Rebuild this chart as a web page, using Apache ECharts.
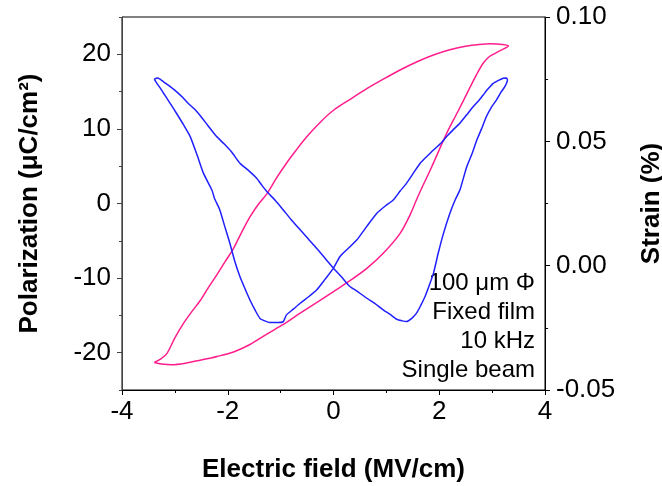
<!DOCTYPE html>
<html><head><meta charset="utf-8">
<script src="https://cdn.jsdelivr.net/npm/echarts@6/dist/echarts.min.js"></script>
<style>html,body{margin:0;padding:0;background:#fff}#c{width:662px;height:486px}</style>
</head><body><div id="c"></div>
<script>
// Polarization loop (left axis), traced in order
const fieldP = [-3.39,-3.25,-3.06,-2.8,-2.52,-2.2,-1.89,-1.58,-1.26,-0.95,-0.63,-0.32,0,0.32,0.63,0.95,1.26,1.45,1.6,1.85,2.14,2.35,2.52,2.7,2.83,2.95,3.05,3.18,3.31,
  3.2,2.96,2.75,2.52,2.2,1.89,1.58,1.26,0.95,0.63,0.32,0,-0.25,-0.51,-0.7,-0.89,-1.08,-1.26,-1.42,-1.58,-1.74,-1.89,-2.05,-2.21,-2.37,-2.52,-2.68,-2.84,-3.0,-3.15,-3.28,-3.39];
const polarization = [-21.3,-21.5,-21.6,-21.4,-21.0,-20.5,-19.9,-18.9,-17.5,-16.2,-14.7,-13.3,-11.8,-10.3,-8.7,-6.6,-4.0,-1.5,1.0,4.8,9.4,12.3,14.7,17.2,18.8,19.7,20.1,20.6,21.1,
  21.3,21.4,21.3,21.1,20.6,19.9,19.0,17.9,16.7,15.4,14.0,12.5,10.9,8.9,7.2,5.4,3.4,1.3,-0.1,-1.8,-3.9,-6.0,-7.8,-9.6,-11.3,-13.0,-14.5,-16.1,-18.0,-20.1,-20.9,-21.3];
// Strain butterfly (right axis), traced in order
const fieldS = [-3.39,-3.33,-3.28,-3.25,-3.1,-2.97,-2.85,-2.75,-2.63,-2.53,-2.38,-2.21,-2.07,-1.93,-1.77,-1.62,-1.45,-1.35,-1.26,-1.1,-0.95,-0.8,-0.63,-0.48,-0.32,-0.16,0,0.15,0.31,0.47,0.63,0.78,0.94,1.07,1.2,1.3,1.38,1.48,1.57,1.65,1.73,1.81,1.89,1.98,2.08,2.2,2.3,2.39,2.52,2.62,2.71,2.8,2.89,2.98,3.08,3.16,3.24,3.29,
  3.27,3.21,3.12,3.02,2.92,2.83,2.74,2.64,2.52,2.39,2.27,2.14,2.02,1.89,1.77,1.64,1.51,1.38,1.26,1.13,0.98,0.82,0.63,0.44,0.28,0.12,0,-0.16,-0.32,-0.47,-0.63,-0.76,-0.89,-0.95,-1.05,-1.2,-1.3,-1.39,-1.48,-1.58,-1.68,-1.77,-1.87,-1.96,-2.06,-2.15,-2.25,-2.3,-2.46,-2.58,-2.71,-2.84,-2.97,-3.08,-3.19,-3.27,-3.34,-3.39];
const strain = [0.0750,0.0755,0.0750,0.0745,0.0722,0.0700,0.0676,0.0653,0.0630,0.0606,0.0565,0.0519,0.0490,0.0458,0.0412,0.0385,0.0351,0.0322,0.0298,0.0262,0.0224,0.0185,0.0144,0.0108,0.0070,0.0030,-0.0010,-0.0045,-0.0084,-0.0106,-0.0131,-0.0152,-0.0178,-0.0196,-0.0216,-0.0222,-0.0225,-0.0212,-0.0191,-0.0160,-0.0125,-0.0080,-0.0031,0.0050,0.0130,0.0210,0.0264,0.0304,0.0398,0.0450,0.0505,0.0550,0.0599,0.0635,0.0666,0.0695,0.0720,0.0747,
  0.0755,0.0754,0.0745,0.0733,0.0710,0.0686,0.0662,0.0639,0.0607,0.0573,0.0548,0.0519,0.0490,0.0465,0.0440,0.0412,0.0372,0.0331,0.0300,0.0264,0.0240,0.0211,0.0158,0.0103,0.0070,0.0036,-0.0010,-0.0055,-0.0098,-0.0125,-0.0151,-0.0175,-0.0198,-0.0225,-0.0229,-0.0229,-0.0222,-0.0212,-0.0180,-0.0138,-0.0090,-0.0044,0.0020,0.0090,0.0160,0.0224,0.0270,0.0304,0.0372,0.0445,0.0519,0.0568,0.0613,0.0650,0.0686,0.0712,0.0733,0.0750];
const xRange = [-4, 4];
const leftRange = [-25, 25];
const leftLabelRange = [-20, 20];
const rightRange = [-0.05, 0.10];
const annotation = ['100 μm Φ', 'Fixed film', '10 kHz', 'Single beam'];

const FONT = "'Liberation Sans', Arial, sans-serif";
const chart = echarts.init(document.getElementById('c'), null, {renderer: 'canvas'});
const pPairs = fieldP.map((x, i) => [x, polarization[i]]);
const sPairs = fieldS.map((x, i) => [x, strain[i]]);
const unit = 373 / (leftRange[1] - leftRange[0]);
const gap2 = (leftLabelRange[0] - leftRange[0]) * unit;
const TICK_FS = 26, NAME_FS = 26;

chart.setOption({
  animation: false,
  backgroundColor: '#fff',
  grid: [
    {left: 122, right: 117, top: 17, bottom: 96, show: true, borderColor: '#000', borderWidth: 1,
     containLabel: false, outerBoundsMode: 'none'},
    {left: 122, right: 117, top: 17 + gap2, bottom: 96 + gap2, show: false,
     containLabel: false, outerBoundsMode: 'none'}
  ],
  xAxis: [
    {type: 'value', gridIndex: 0, min: xRange[0], max: xRange[1], interval: 2,
     name: 'Electric field (MV/cm)', nameLocation: 'middle', nameGap: 67,
     nameTextStyle: {fontFamily: FONT, fontSize: NAME_FS, fontWeight: 'bold', color: '#000'},
     axisLine: {onZero: false, lineStyle: {color: '#000', width: 1}},
     axisTick: {length: 5, lineStyle: {color: '#000'}},
     minorTick: {show: true, splitNumber: 2, length: 3, lineStyle: {color: '#000'}},
     axisLabel: {fontFamily: FONT, fontSize: TICK_FS, color: '#000', margin: 9},
     splitLine: {show: false}},
    {type: 'value', gridIndex: 1, min: xRange[0], max: xRange[1], show: false}
  ],
  yAxis: [
    {type: 'value', gridIndex: 0, position: 'left', min: leftRange[0], max: leftRange[1], interval: 5,
     name: 'Polarization (μC/cm²)', nameLocation: 'middle', nameGap: 79, nameRotate: 90,
     nameTextStyle: {fontFamily: FONT, fontSize: NAME_FS, fontWeight: 'bold', color: '#000'},
     axisLine: {onZero: false, lineStyle: {color: '#444', width: 1}},
     axisTick: {length: 3, lineStyle: {color: '#444'}},
     axisLabel: {show: false},
     splitLine: {show: false}},
    {type: 'value', gridIndex: 0, position: 'right', min: rightRange[0], max: rightRange[1], interval: 0.05,
     name: 'Strain (%)', nameLocation: 'middle', nameGap: 94, nameRotate: 90,
     nameTextStyle: {fontFamily: FONT, fontSize: NAME_FS, fontWeight: 'bold', color: '#000'},
     axisLine: {show: true, onZero: false, lineStyle: {color: '#000', width: 1}},
     axisTick: {length: 5, lineStyle: {color: '#000'}},
     minorTick: {show: true, splitNumber: 2, length: 3, lineStyle: {color: '#000'}},
     axisLabel: {fontFamily: FONT, fontSize: TICK_FS, color: '#000', margin: 11, formatter: v => v.toFixed(2)},
     splitLine: {show: false}},
    {type: 'value', gridIndex: 1, position: 'left', min: leftLabelRange[0], max: leftLabelRange[1], interval: 10,
     axisLine: {show: false, onZero: false},
     axisTick: {length: 5, lineStyle: {color: '#444'}},
     axisLabel: {fontFamily: FONT, fontSize: TICK_FS, color: '#000', margin: 11},
     splitLine: {show: false}}
  ],
  series: [
    {type: 'line', name: 'Polarization', xAxisIndex: 0, yAxisIndex: 0, data: pPairs, showSymbol: false, symbol: 'none',
     smooth: 0.3, lineStyle: {color: '#FF1E8C', width: 1.5}},
    {type: 'line', name: 'Strain', xAxisIndex: 0, yAxisIndex: 1, data: sPairs, showSymbol: false, symbol: 'none',
     smooth: 0.2, lineStyle: {color: '#1F1FFF', width: 1.5}}
  ],
  graphic: annotation.map((t, i) => ({
    type: 'text', right: 662 - 535, top: 271 + i * 29,
    style: {text: t, fontFamily: FONT, fontSize: 24, fill: '#000', textAlign: 'right'}
  }))
});
</script></body></html>
